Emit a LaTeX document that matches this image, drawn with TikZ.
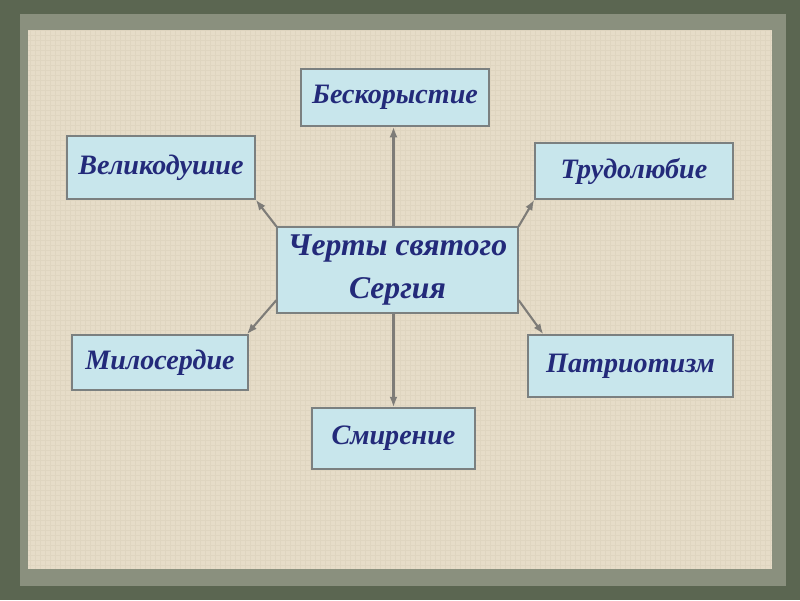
\documentclass[tikz,border=0pt]{standalone}
\usepackage{fontspec}
\setmainfont{Liberation Serif}
\usepackage{xcolor}
\usetikzlibrary{arrows.meta}
\definecolor{moss}{HTML}{5B6651}
\definecolor{mosssoft}{HTML}{8A907E}
\definecolor{linen}{HTML}{E6DCC8}
\definecolor{weave}{HTML}{D6CBB5}
\definecolor{sky}{HTML}{C8E6EC}
\definecolor{slate}{HTML}{7B8080}
\definecolor{navy}{HTML}{232A7A}
\definecolor{stem}{HTML}{7E7C78}

\begin{document}
\begin{tikzpicture}[x=0.02cm,y=-0.02cm,>=Latex,
  trait/.style={draw=slate,fill=sky,line width=0.8pt,inner sep=0pt,text=navy,font=\fontsize{16}{19}\selectfont\bfseries\itshape},
  link/.style={-{Latex[length=6pt,width=4.5pt]},draw=stem,line width=1.2pt}]
% frame and paper
\fill[moss] (0,0) rectangle (800,600);
\fill[mosssoft] (20,14) rectangle (786,586);
\fill[linen] (28,30) rectangle (772,569);
\draw[weave,line width=0.3pt,opacity=0.4,step=0.1cm] (28,30) grid (772,569);
\node[trait,font=\fontsize{18}{24}\selectfont\bfseries\itshape,align=center,minimum width=4.82cm,minimum height=1.72cm] (centre) at (397.5,270) {Черты святого\\Сергия};
\node[trait,minimum width=3.76cm,minimum height=1.14cm] (gift) at (395,97.5) {Бескорыстие};
\node[trait,minimum width=3.76cm,minimum height=1.26cm] (magn) at (161,167.5) {Великодушие};
\node[trait,minimum width=3.96cm,minimum height=1.12cm] (labour) at (634,171) {Трудолюбие};
\node[trait,minimum width=3.52cm,minimum height=1.10cm] (mercy) at (160,362.5) {Милосердие};
\node[trait,minimum width=4.10cm,minimum height=1.24cm] (patriot) at (630.5,366) {Патриотизм};
\node[trait,minimum width=3.26cm,minimum height=1.22cm] (humble) at (393.5,438.5) {Смирение};
\draw[link] (centre.north -| humble) -- (gift.south -| humble);
\draw[link] (centre.south -| humble) -- (humble.north);
\draw[link] (centre.north west) -- (magn.south east);
\draw[link] (centre.north east) -- (labour.south west);
\draw[link] (centre.-14) -- (patriot.160);
\draw[link] (centre.194) -- (mercy.18);
\end{tikzpicture}
\end{document}
